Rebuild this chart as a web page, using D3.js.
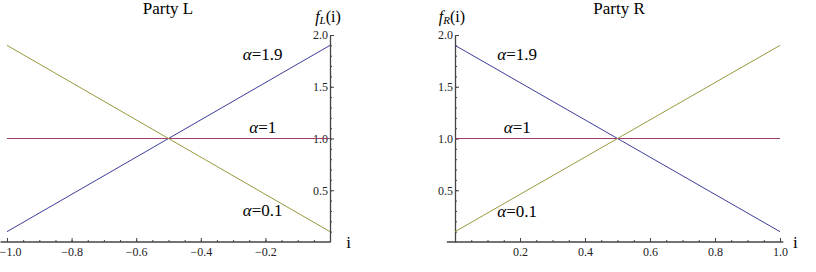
<!DOCTYPE html>
<html>
<head>
<meta charset="utf-8">
<script src="https://cdn.jsdelivr.net/npm/d3@7"></script>
<style>
  body { margin: 0; background: #fff; }
</style>
</head>
<body>
<div id="viz"></div>
<script>
// Data
const iLeft = [-1, -0.5, 0];
const iRight = [0, 0.5, 1];
const alphas = ["1.9", "1", "0.1"];
const fLeft19 = [0.1, 1.0, 1.9];
const fLeft1 = [1.0, 1.0, 1.0];
const fLeft01 = [1.9, 1.0, 0.1];
const fRight19 = [1.9, 1.0, 0.1];
const fRight1 = [1.0, 1.0, 1.0];
const fRight01 = [0.1, 1.0, 1.9];
const xTicksLeft = [-1.0, -0.8, -0.6, -0.4, -0.2];
const xTicksRight = [0.2, 0.4, 0.6, 0.8, 1.0];
const yTicks = [0.5, 1.0, 1.5, 2.0];
const titles = ["Party L", "Party R"];

const width = 816, height = 272;
const colors = ["#3d3d99", "#993d6b", "#99993d"];
const serif = "'Liberation Serif', 'Times New Roman', 'DejaVu Serif', serif";

const svg = d3.select("#viz").append("svg")
    .attr("width", width)
    .attr("height", height)
    .attr("font-family", serif);

const y = d3.scaleLinear().domain([0, 2]).range([242, 35]);

const panels = [
    { title: titles[0], sub: "L", xs: iLeft, series: [fLeft19, fLeft1, fLeft01],
      x: d3.scaleLinear().domain([-1, 0]).range([7, 330]), ticks: xTicksLeft,
      xStart: -1.02, xEnd: 0, titleX: 168,
      labels: [[-0.27, 1.76], [-0.25, 1.05], [-0.27, 0.25]], yLabelX: -0.046, iX: 0.05 },
    { title: titles[1], sub: "R", xs: iRight, series: [fRight19, fRight1, fRight01],
      x: d3.scaleLinear().domain([0, 1]).range([455, 780]), ticks: xTicksRight,
      xStart: -0.025, xEnd: 1.01, titleX: 619,
      labels: [[0.13, 1.76], [0.15, 1.05], [0.13, 0.24]], yLabelX: -0.05, iX: 1.04 }
];

function styleAxis(g) {
    g.attr("font-family", serif).attr("font-size", 12);
    g.selectAll("line").attr("stroke", "#444");
    g.selectAll("text").attr("fill", "#222");
}

panels.forEach(p => {
    const x = p.x;

    // title
    svg.append("text")
        .attr("x", p.titleX).attr("y", 14)
        .attr("text-anchor", "middle")
        .attr("font-size", 17)
        .text(p.title);

    // x axis: minor ticks, then major ticks with labels
    const xMinor = d3.range(x.domain()[0], x.domain()[1] + 0.001, 0.05);
    svg.append("g")
        .attr("transform", `translate(0,${y(0)})`)
        .call(d3.axisBottom(x).tickValues(xMinor).tickSize(-2).tickFormat("").tickSizeOuter(0))
        .call(g => g.select(".domain").remove())
        .call(styleAxis);
    svg.append("g")
        .attr("transform", `translate(0,${y(0)})`)
        .call(d3.axisBottom(x).tickValues(p.ticks).tickSize(-4).tickPadding(5)
            .tickFormat(d3.format(".1f")).tickSizeOuter(0))
        .call(g => g.select(".domain").remove())
        .call(styleAxis)
        .call(g => g.selectAll("text").filter(d => d === -1).attr("dx", 3));
    svg.append("line")
        .attr("x1", x(p.xStart)).attr("x2", x(p.xEnd))
        .attr("y1", y(0)).attr("y2", y(0))
        .attr("stroke", "#444").attr("stroke-width", 1.3);

    // y axis
    const yMinor = d3.range(0.1, 2.001, 0.1);
    svg.append("g")
        .attr("transform", `translate(${x(0)},0)`)
        .call(d3.axisLeft(y).tickValues(yMinor).tickSize(-2).tickFormat("").tickSizeOuter(0))
        .call(g => g.select(".domain").remove())
        .call(styleAxis);
    svg.append("g")
        .attr("transform", `translate(${x(0)},0)`)
        .call(d3.axisLeft(y).tickValues(yTicks).tickSize(-4).tickPadding(2)
            .tickFormat(d3.format(".1f")).tickSizeOuter(0))
        .call(styleAxis)
        .call(g => g.select(".domain").attr("stroke", "#444").attr("stroke-width", 1.3));

    // curves
    const line = d3.line().x((d, i) => x(p.xs[i])).y(d => y(d));
    p.series.forEach((s, k) => {
        svg.append("path")
            .datum(s)
            .attr("d", line)
            .attr("fill", "none")
            .attr("stroke", colors[k])
            .attr("stroke-width", 1);
    });

    // alpha labels
    p.labels.forEach((l, k) => {
        const t = svg.append("text")
            .attr("x", x(l[0])).attr("y", y(l[1]))
            .attr("font-size", 17);
        t.append("tspan").attr("font-style", "italic").text("\u03b1");
        t.append("tspan").text("=" + alphas[k]);
    });

    // axis labels
    const yl = svg.append("text")
        .attr("x", x(p.yLabelX)).attr("y", 22)
        .attr("font-size", 16);
    yl.append("tspan").attr("font-style", "italic").text("f");
    yl.append("tspan").attr("font-style", "italic").attr("font-size", 11)
        .attr("dy", 2).text(p.sub);
    yl.append("tspan").attr("dy", -2).text("(i)");

    svg.append("text")
        .attr("x", x(p.iX)).attr("y", 248)
        .attr("font-size", 17)
        .text("i");
});
</script>
</body>
</html>
